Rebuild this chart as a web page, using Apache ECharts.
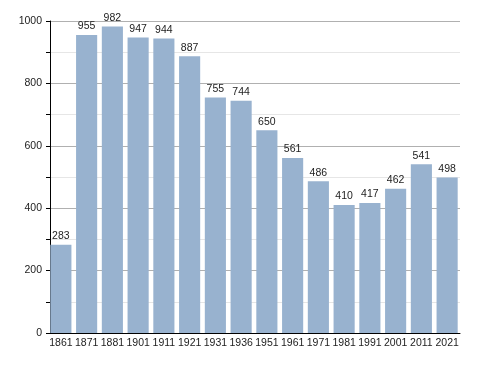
<!DOCTYPE html>
<html><head><meta charset="utf-8">
<script src="https://cdn.jsdelivr.net/npm/echarts@6/dist/echarts.min.js"></script>
<style>html,body{margin:0;padding:0;background:#fff}#c{width:488px;height:373px}</style>
</head><body><div id="c"></div>
<script>
const years = ['1861','1871','1881','1901','1911','1921','1931','1936','1951','1961','1971','1981','1991','2001','2011','2021'];
const population = [283,955,982,947,944,887,755,744,650,561,486,410,417,462,541,498];
const yTicks = [0,200,400,600,800,1000];

const chart = echarts.init(document.getElementById('c'), null, {renderer:'canvas'});
chart.setOption({
  animation:false,
  grid:{left:48, right:28, top:21, bottom:40, containLabel:false},
  xAxis:{
    type:'category', data:years, boundaryGap:true,
    axisLine:{lineStyle:{color:'#000', width:1}},
    axisTick:{show:false},
    axisLabel:{color:'#222', fontFamily:'Liberation Sans', fontSize:10.5, margin:5, interval:0}
  },
  yAxis:{
    type:'value', min:yTicks[0], max:yTicks[yTicks.length-1], interval:200, offset:-2,
    axisLine:{show:true, lineStyle:{color:'#000', width:1}},
    axisTick:{show:true, length:4, lineStyle:{color:'#000'}},
    minorTick:{show:true, splitNumber:2, length:4, lineStyle:{color:'#000'}},
    splitLine:{show:true, lineStyle:{color:'#b0b0b0', width:1}},
    minorSplitLine:{show:true, lineStyle:{color:'#e6e6e6', width:1}},
    axisLabel:{color:'#222', fontFamily:'Liberation Sans', fontSize:10.5, margin:8, formatter:v=>String(v)}
  },
  series:[{
    type:'bar', data:population, barCategoryGap:'18%',
    itemStyle:{color:'#98b2cf'},
    label:{show:true, position:'top', distance:3, color:'#222', fontFamily:'Liberation Sans', fontSize:10.5}
  }]
});
</script></body></html>
